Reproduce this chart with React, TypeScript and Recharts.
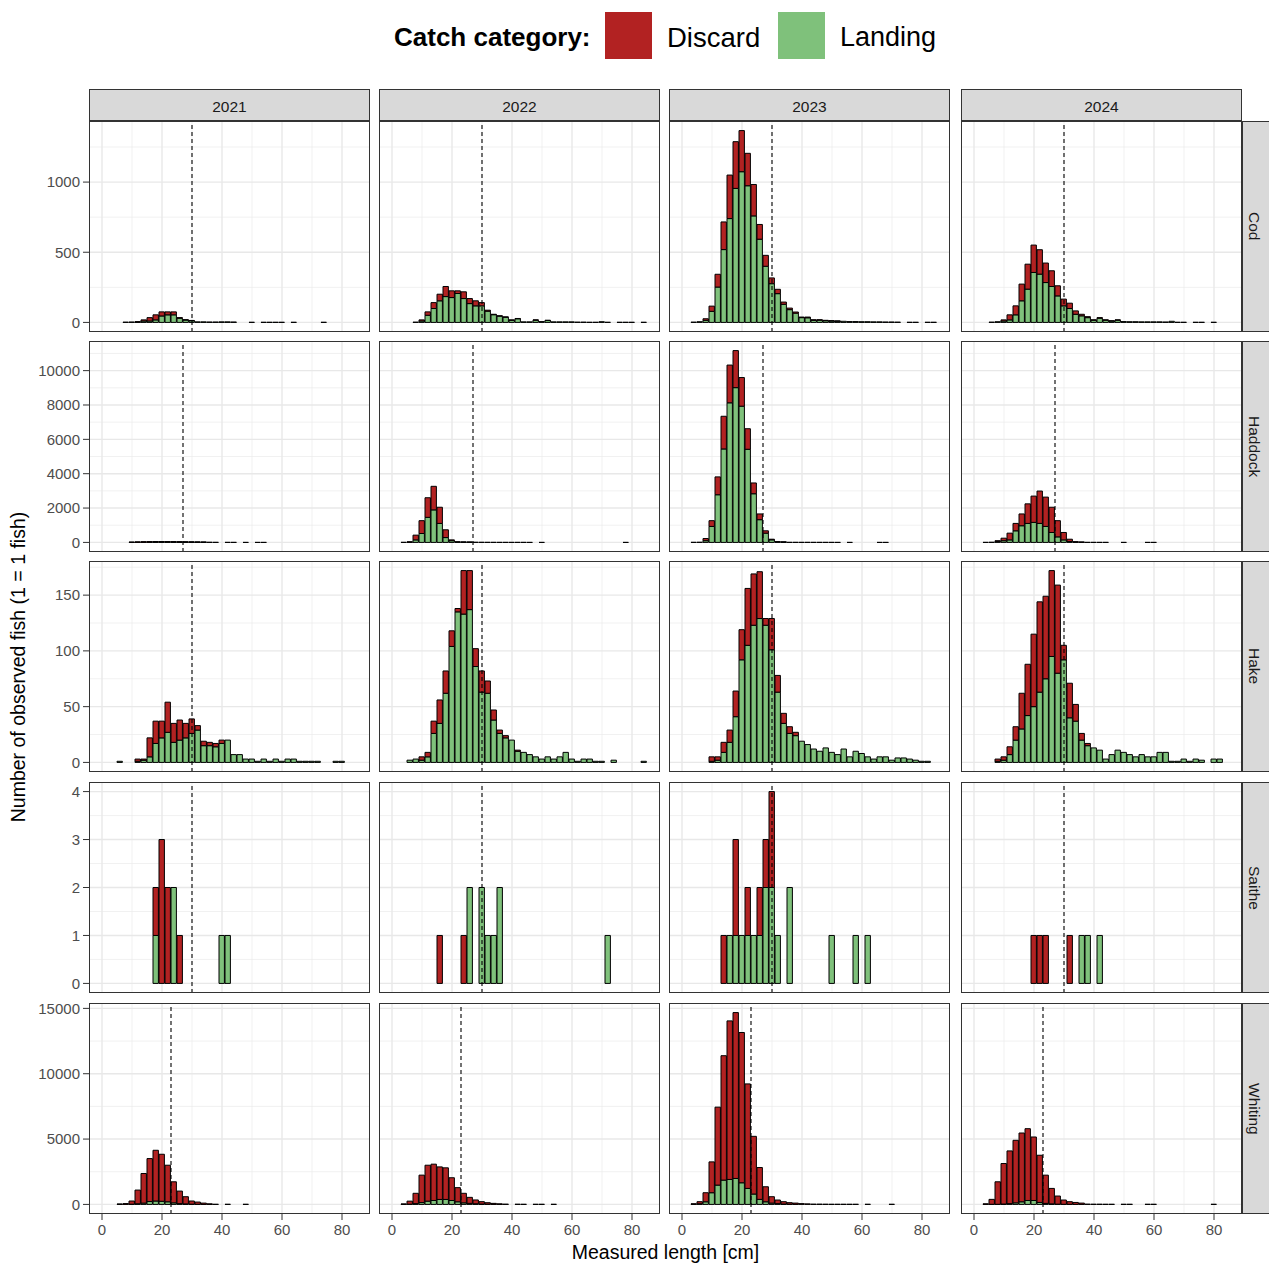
import React from 'react';
import { BarChart, Bar, XAxis, YAxis, CartesianGrid, ReferenceLine } from 'recharts';

// Facet labels
const YEARS = ['2021', '2022', '2023', '2024'];
const SPECIES = ['Cod', 'Haddock', 'Hake', 'Saithe', 'Whiting'];
// Minimum conservation reference size per species (dashed line), cm
const MCRS = [30, 27, 30, 30, 23];

// 2 cm length bins (bin centres)
const LENGTH_BINS = [
  0, 2, 4, 6, 8, 10, 12, 14, 16, 18, 20, 22, 24, 26, 28, 30, 32, 34, 36, 38, 40, 42, 44,
  46, 48, 50, 52, 54, 56, 58, 60, 62, 64, 66, 68, 70, 72, 74, 76, 78, 80, 82, 84, 86, 88,
];

const X_TICKS = [0, 20, 40, 60, 80];
const X_MINOR = [10, 30, 50, 70];

const Y_TICKS = [
  [0, 500, 1000],
  [0, 2000, 4000, 6000, 8000, 10000],
  [0, 50, 100, 150],
  [0, 1, 2, 3, 4],
  [0, 5000, 10000, 15000],
];
const Y_MINOR = [
  [250, 750, 1250],
  [1000, 3000, 5000, 7000, 9000, 11000],
  [25, 75, 125, 175],
  [0.5, 1.5, 2.5, 3.5],
  [2500, 7500, 12500],
];

type Pair = [number, number]; // [length bin, number of fish]

// ---- Cod ----
const COD_21_D: Pair[] = [[12, 2], [14, 8], [16, 24], [18, 36], [20, 29], [22, 21], [24, 21], [26, 4], [28, 2], [30, 2]];
const COD_21_L: Pair[] = [[8, 2], [10, 3], [12, 3], [14, 10], [16, 10], [18, 18], [20, 46], [22, 54], [24, 54], [26, 30], [28, 17], [30, 12], [32, 4], [34, 4], [36, 3], [38, 3], [40, 4], [42, 4], [44, 3], [50, 1], [54, 1], [56, 1], [58, 1], [60, 1], [64, 1], [74, 1]];
const COD_22_D: Pair[] = [[10, 8], [12, 24], [14, 42], [16, 47], [18, 72], [20, 48], [22, 19], [24, 48], [26, 36], [28, 36], [30, 23], [32, 7], [34, 3], [36, 2], [38, 2], [40, 3], [42, 2], [48, 2], [52, 1]];
const COD_22_L: Pair[] = [[8, 2], [10, 10], [12, 51], [14, 99], [16, 154], [18, 184], [20, 177], [22, 206], [24, 170], [26, 134], [28, 118], [30, 118], [32, 80], [34, 55], [36, 45], [38, 37], [40, 15], [42, 26], [44, 4], [46, 4], [48, 16], [50, 6], [52, 14], [54, 4], [56, 4], [58, 4], [60, 4], [62, 2], [64, 2], [66, 1], [68, 1], [70, 5], [72, 1], [76, 1], [78, 1], [80, 1], [84, 1]];
const COD_23_D: Pair[] = [[8, 11], [10, 37], [12, 91], [14, 197], [16, 310], [18, 333], [20, 293], [22, 231], [24, 224], [26, 105], [28, 78], [30, 41], [32, 31], [34, 16], [36, 11], [38, 8], [40, 4], [42, 5], [44, 4], [46, 3], [48, 3], [50, 2], [52, 1]];
const COD_23_L: Pair[] = [[4, 2], [6, 5], [8, 15], [10, 79], [12, 252], [14, 519], [16, 740], [18, 955], [20, 1074], [22, 974], [24, 759], [26, 593], [28, 400], [30, 276], [32, 205], [34, 129], [36, 91], [38, 66], [40, 34], [42, 33], [44, 15], [46, 16], [48, 12], [50, 10], [52, 9], [54, 8], [56, 6], [58, 6], [60, 5], [62, 5], [64, 4], [66, 4], [68, 3], [70, 3], [72, 2], [76, 1], [78, 1], [82, 1], [84, 1]];
const COD_24_D: Pair[] = [[10, 8], [12, 36], [14, 64], [16, 119], [18, 178], [20, 195], [22, 174], [24, 139], [26, 112], [28, 72], [30, 48], [32, 38], [34, 24], [36, 11], [38, 7], [40, 2], [42, 4], [44, 2], [46, 1], [48, 2]];
const COD_24_L: Pair[] = [[6, 2], [8, 5], [10, 10], [12, 18], [14, 54], [16, 154], [18, 237], [20, 356], [22, 344], [24, 284], [26, 256], [28, 189], [30, 118], [32, 99], [34, 58], [36, 47], [38, 34], [40, 16], [42, 30], [44, 16], [46, 10], [48, 16], [50, 6], [52, 5], [54, 5], [56, 4], [58, 4], [60, 4], [62, 4], [64, 3], [66, 8], [68, 1], [70, 1], [74, 1], [76, 1], [80, 1]];

// ---- Haddock ----
const HAD_21_D: Pair[] = [[10, 10], [12, 20], [14, 25], [16, 25], [18, 25], [20, 20], [22, 15], [24, 10], [26, 7], [28, 5], [30, 3], [32, 2], [34, 1]];
const HAD_21_L: Pair[] = [[10, 5], [12, 10], [14, 15], [16, 20], [18, 25], [20, 30], [22, 30], [24, 30], [26, 28], [28, 25], [30, 22], [32, 18], [34, 14], [36, 10], [38, 5], [42, 3], [44, 2], [48, 1], [52, 1], [54, 1]];
const HAD_22_D: Pair[] = [[6, 10], [8, 276], [10, 747], [12, 1140], [14, 1371], [16, 941], [18, 453], [20, 47], [22, 5], [24, 2], [26, 1]];
const HAD_22_L: Pair[] = [[4, 5], [6, 20], [8, 147], [10, 518], [12, 1460], [14, 1894], [16, 1106], [18, 282], [20, 100], [22, 25], [24, 18], [26, 14], [28, 10], [30, 8], [32, 5], [34, 4], [36, 3], [38, 3], [40, 2], [42, 2], [44, 2], [46, 1], [50, 1], [78, 1]];
const HAD_23_D: Pair[] = [[8, 125], [10, 334], [12, 1039], [14, 1902], [16, 2197], [18, 2157], [20, 1667], [22, 1196], [24, 628], [26, 334], [28, 137], [30, 36], [32, 5], [34, 3]];
const HAD_23_L: Pair[] = [[4, 5], [6, 10], [8, 100], [10, 931], [12, 2775], [14, 5441], [16, 8127], [18, 9010], [20, 7931], [22, 5422], [24, 2833], [26, 1323], [28, 539], [30, 150], [32, 35], [34, 22], [36, 5], [38, 5], [40, 4], [42, 4], [44, 3], [46, 3], [48, 2], [50, 2], [52, 1], [56, 1], [66, 1], [68, 1]];
const HAD_24_D: Pair[] = [[8, 38], [10, 147], [12, 392], [14, 430], [16, 687], [18, 1139], [20, 1529], [22, 1884], [24, 1706], [26, 1469], [28, 942], [30, 431], [32, 136], [34, 20], [36, 10]];
const HAD_24_L: Pair[] = [[4, 3], [6, 10], [8, 60], [10, 98], [12, 147], [14, 676], [16, 970], [18, 1106], [20, 1167], [22, 1106], [24, 931], [26, 578], [28, 323], [30, 147], [32, 50], [34, 20], [36, 10], [38, 3], [40, 3], [42, 2], [44, 2], [50, 1], [58, 1], [60, 1]];

// ---- Hake ----
const HAKE_21_D: Pair[] = [[12, 2], [14, 1], [16, 17], [18, 20], [20, 15], [22, 27], [24, 17], [26, 18], [28, 13], [30, 13], [32, 4], [34, 4], [36, 3], [38, 3], [40, 3]];
const HAKE_21_L: Pair[] = [[6, 1], [12, 1], [14, 2], [16, 5], [18, 17], [20, 22], [22, 27], [24, 18], [26, 20], [28, 22], [30, 26], [32, 29], [34, 15], [36, 15], [38, 14], [40, 17], [42, 20], [44, 7], [46, 7], [48, 3], [50, 3], [52, 1], [54, 3], [56, 1], [58, 3], [60, 1], [62, 3], [64, 3], [66, 1], [68, 1], [70, 1], [72, 1], [78, 1], [80, 1]];
const HAKE_22_D: Pair[] = [[10, 3], [12, 4], [14, 11], [16, 21], [18, 20], [20, 14], [22, 3], [24, 39], [26, 35], [28, 16], [30, 19], [32, 11], [34, 9], [36, 3], [38, 2], [42, 1]];
const HAKE_22_L: Pair[] = [[6, 2], [8, 3], [10, 2], [12, 5], [14, 26], [16, 35], [18, 62], [20, 104], [22, 135], [24, 133], [26, 137], [28, 86], [30, 63], [32, 62], [34, 38], [36, 26], [38, 22], [40, 20], [42, 10], [44, 9], [46, 7], [48, 5], [50, 3], [52, 5], [54, 3], [56, 5], [58, 9], [60, 3], [62, 1], [64, 3], [66, 3], [68, 1], [70, 1], [74, 2], [84, 1]];
const HAKE_23_D: Pair[] = [[10, 4], [12, 3], [14, 9], [16, 11], [18, 23], [20, 27], [22, 51], [24, 46], [26, 42], [28, 6], [30, 28], [32, 15], [34, 9], [36, 6], [38, 3]];
const HAKE_23_L: Pair[] = [[10, 1], [12, 2], [14, 9], [16, 18], [18, 41], [20, 92], [22, 105], [24, 123], [26, 129], [28, 123], [30, 101], [32, 63], [34, 35], [36, 26], [38, 24], [40, 19], [42, 16], [44, 12], [46, 10], [48, 13], [50, 9], [52, 7], [54, 12], [56, 5], [58, 10], [60, 8], [62, 5], [64, 3], [66, 5], [68, 5], [70, 2], [72, 4], [74, 4], [76, 3], [78, 2], [80, 1], [82, 1]];
const HAKE_24_D: Pair[] = [[8, 2], [10, 3], [12, 7], [14, 12], [16, 32], [18, 46], [20, 65], [22, 81], [24, 74], [26, 77], [28, 79], [30, 13], [32, 31], [34, 15], [36, 6], [38, 2]];
const HAKE_24_L: Pair[] = [[8, 1], [10, 2], [12, 7], [14, 20], [16, 30], [18, 42], [20, 50], [22, 63], [24, 75], [26, 95], [28, 80], [30, 92], [32, 40], [34, 37], [36, 20], [38, 15], [40, 13], [42, 11], [44, 3], [46, 7], [48, 11], [50, 9], [52, 7], [54, 5], [56, 7], [58, 5], [60, 5], [62, 9], [64, 9], [66, 1], [68, 1], [70, 3], [72, 1], [74, 3], [76, 2], [80, 3], [82, 3]];

// ---- Saithe ----
const SAI_21_D: Pair[] = [[18, 1], [20, 3], [22, 2], [26, 1]];
const SAI_21_L: Pair[] = [[18, 1], [24, 2], [40, 1], [42, 1]];
const SAI_22_D: Pair[] = [[16, 1], [24, 1]];
const SAI_22_L: Pair[] = [[26, 2], [30, 2], [32, 1], [34, 1], [36, 2], [72, 1]];
const SAI_23_D: Pair[] = [[14, 1], [18, 2], [22, 1], [26, 1], [28, 1], [30, 2]];
const SAI_23_L: Pair[] = [[16, 1], [18, 1], [20, 1], [22, 1], [24, 1], [26, 1], [28, 2], [30, 2], [32, 1], [36, 2], [50, 1], [58, 1], [62, 1]];
const SAI_24_D: Pair[] = [[20, 1], [22, 1], [24, 1], [32, 1]];
const SAI_24_L: Pair[] = [[36, 1], [38, 1], [42, 1]];

// ---- Whiting ----
const WHI_21_D: Pair[] = [[6, 10], [8, 40], [10, 239], [12, 1047], [14, 2266], [16, 3288], [18, 3882], [20, 3598], [22, 2800], [24, 1611], [26, 960], [28, 549], [30, 239], [32, 170], [34, 95], [36, 35], [38, 10], [42, 10], [48, 10]];
const WHI_21_L: Pair[] = [[6, 10], [8, 20], [10, 20], [12, 50], [14, 100], [16, 220], [18, 260], [20, 240], [22, 200], [24, 120], [26, 60], [28, 40], [30, 20], [32, 10], [34, 5], [36, 5]];
const WHI_22_D: Pair[] = [[4, 20], [6, 230], [8, 790], [10, 2100], [12, 2750], [14, 2780], [16, 2490], [18, 2420], [20, 1740], [22, 1082], [24, 730], [26, 460], [28, 290], [30, 180], [32, 110], [34, 70], [36, 35], [38, 20], [42, 15], [44, 10], [48, 10], [50, 10], [54, 10]];
const WHI_22_L: Pair[] = [[4, 10], [6, 20], [8, 60], [10, 140], [12, 250], [14, 300], [16, 380], [18, 380], [20, 300], [22, 200], [24, 120], [26, 80], [28, 50], [30, 30], [32, 20], [34, 10], [36, 5]];
const WHI_23_D: Pair[] = [[4, 20], [6, 158], [8, 694], [10, 2360], [12, 5965], [14, 9519], [16, 12134], [18, 12693], [20, 11500], [22, 7996], [24, 4416], [26, 2437], [28, 1151], [30, 489], [32, 275], [34, 178], [36, 112], [38, 90], [40, 60], [42, 40], [44, 20], [46, 20], [48, 15], [50, 10], [52, 10], [54, 10], [56, 10], [58, 10], [62, 10], [70, 10]];
const WHI_23_L: Pair[] = [[4, 20], [6, 50], [8, 200], [10, 894], [12, 1478], [14, 1859], [16, 1909], [18, 1985], [20, 1655], [22, 1224], [24, 793], [26, 386], [28, 200], [30, 100], [32, 60], [34, 30], [36, 20], [38, 10]];
const WHI_24_D: Pair[] = [[4, 30], [6, 376], [8, 1721], [10, 3098], [12, 4033], [14, 4785], [16, 5264], [18, 5494], [20, 4859], [22, 3612], [24, 2159], [26, 1184], [28, 620], [30, 325], [32, 200], [34, 145], [36, 95], [38, 20], [40, 15], [42, 15], [44, 10], [46, 10], [50, 10], [52, 10], [58, 10], [60, 10], [80, 10]];
const WHI_24_L: Pair[] = [[4, 10], [6, 10], [8, 10], [10, 30], [12, 60], [14, 120], [16, 200], [18, 300], [20, 300], [22, 150], [24, 80], [26, 40], [28, 20], [30, 10], [32, 8], [34, 5], [36, 5]];

// rows = species, columns = years, [discard, landing]
const SERIES: [Pair[], Pair[]][][] = [
  [[COD_21_D, COD_21_L], [COD_22_D, COD_22_L], [COD_23_D, COD_23_L], [COD_24_D, COD_24_L]],
  [[HAD_21_D, HAD_21_L], [HAD_22_D, HAD_22_L], [HAD_23_D, HAD_23_L], [HAD_24_D, HAD_24_L]],
  [[HAKE_21_D, HAKE_21_L], [HAKE_22_D, HAKE_22_L], [HAKE_23_D, HAKE_23_L], [HAKE_24_D, HAKE_24_L]],
  [[SAI_21_D, SAI_21_L], [SAI_22_D, SAI_22_L], [SAI_23_D, SAI_23_L], [SAI_24_D, SAI_24_L]],
  [[WHI_21_D, WHI_21_L], [WHI_22_D, WHI_22_L], [WHI_23_D, WHI_23_L], [WHI_24_D, WHI_24_L]],
];

const DISCARD = '#B22222';
const LANDING = '#7FC17B';
const FONT = '"Liberation Sans", Arial, sans-serif';

// layout
const COL_X = [89, 379, 669, 961];
const ROW_Y = [121, 341, 561, 782, 1003];
const PANEL_W = 281;
const PANEL_H = 211;
const STRIP = 32;
const Y_AXIS_W = 89;
const X_AXIS_H = 30;
const X_DOMAIN: [number, number] = [-13 / 3, 268 / 3];

function binTable(discard: Pair[], landing: Pair[]) {
  const d = new Map(discard);
  const l = new Map(landing);
  return LENGTH_BINS.map((len) => ({ len, discard: d.get(len) ?? 0, landing: l.get(len) ?? 0 }));
}

const rowMax = SERIES.map((row) =>
  Math.max(...row.flatMap(([d, l]) => binTable(d, l).map((b) => b.discard + b.landing)))
);

const tickStyle = { fill: '#4D4D4D', fontSize: 15, fontFamily: FONT };

const Panel: React.FC<{ r: number; c: number }> = ({ r, c }) => {
  const firstCol = c === 0;
  const lastRow = r === SPECIES.length - 1;
  const yw = firstCol ? Y_AXIS_W : 0;
  const xh = lastRow ? X_AXIS_H : 0;
  const width = PANEL_W + yw;
  const height = PANEL_H + xh;
  const max = rowMax[r];
  const yDomain: [number, number] = [-0.05 * max, 1.05 * max];
  const minor = Y_MINOR[r].filter((v) => v < yDomain[1]);
  const [discard, landing] = SERIES[r][c];

  return (
    <div style={{ position: 'absolute', left: COL_X[c] - yw, top: ROW_Y[r], width, height }}>
      <BarChart
        width={width}
        height={height}
        data={binTable(discard, landing)}
        margin={{ top: 0, right: 0, bottom: 0, left: 0 }}
        barGap={0}
        barCategoryGap={0}
      >
        <CartesianGrid verticalValues={X_MINOR} horizontalValues={minor} stroke="#EBEBEB" strokeWidth={0.7} />
        <CartesianGrid verticalValues={X_TICKS} horizontalValues={Y_TICKS[r]} stroke="#E8E8E8" strokeWidth={1.4} />
        <XAxis
          type="number"
          dataKey="len"
          domain={X_DOMAIN}
          allowDataOverflow
          ticks={X_TICKS}
          interval={0}
          hide={!lastRow}
          height={xh}
          axisLine={false}
          tickLine={{ stroke: '#333333' }}
          tickSize={6}
          tickMargin={4}
          tick={tickStyle}
        />
        <YAxis
          type="number"
          domain={yDomain}
          allowDataOverflow
          ticks={Y_TICKS[r]}
          interval={0}
          hide={!firstCol}
          width={yw}
          axisLine={false}
          tickLine={{ stroke: '#333333' }}
          tickSize={6}
          tickMargin={3}
          tick={tickStyle}
        />
        <Bar dataKey="landing" stackId="catch" fill={LANDING} stroke="#000" strokeWidth={1} barSize={6} isAnimationActive={false} />
        <Bar dataKey="discard" stackId="catch" fill={DISCARD} stroke="#000" strokeWidth={1} barSize={6} isAnimationActive={false} />
        <ReferenceLine x={MCRS[r]} stroke="#000" strokeWidth={1.1} strokeDasharray="4 3" />
      </BarChart>
    </div>
  );
};

const stripStyle: React.CSSProperties = {
  position: 'absolute',
  boxSizing: 'border-box',
  border: '1px solid #333333',
  background: '#D9D9D9',
  color: '#1A1A1A',
  fontSize: 15.5,
  display: 'flex',
  alignItems: 'center',
};

const App: React.FC = () => {
  return (
    <div
      style={{
        position: 'absolute',
        left: 0,
        top: 0,
        width: 1269,
        height: 1263,
        overflow: 'hidden',
        background: '#fff',
        fontFamily: FONT,
      }}
    >
      <style>{'.recharts-surface { overflow: visible; }'}</style>

      {/* Legend */}
      <div style={{ position: 'absolute', left: 394, top: 14, height: 47, lineHeight: '47px', fontSize: 26, fontWeight: 'bold', color: '#000' }}>
        Catch category:
      </div>
      <div style={{ position: 'absolute', left: 605, top: 12, width: 47, height: 47, background: DISCARD }} />
      <div style={{ position: 'absolute', left: 667, top: 14, height: 47, lineHeight: '47px', fontSize: 27.5, color: '#000' }}>Discard</div>
      <div style={{ position: 'absolute', left: 778, top: 12, width: 47, height: 47, background: LANDING }} />
      <div style={{ position: 'absolute', left: 840, top: 14, height: 47, lineHeight: '47px', fontSize: 27, color: '#000' }}>Landing</div>

      {/* Column strips */}
      {YEARS.map((y, c) => (
        <div
          key={y}
          style={{
            ...stripStyle,
            left: COL_X[c],
            top: ROW_Y[0] - STRIP,
            width: PANEL_W,
            height: STRIP,
            justifyContent: 'center',
            paddingTop: 3,
          }}
        >
          {y}
        </div>
      ))}

      {/* Row strips */}
      {SPECIES.map((s, r) => (
        <div
          key={s}
          style={{
            ...stripStyle,
            left: COL_X[3] + PANEL_W,
            top: ROW_Y[r],
            width: STRIP,
            height: PANEL_H,
            justifyContent: 'flex-start',
            paddingLeft: 2,
          }}
        >
          <span style={{ writingMode: 'vertical-rl' }}>{s}</span>
        </div>
      ))}

      {/* Panels */}
      {SPECIES.map((s, r) => YEARS.map((y, c) => <Panel key={`${s}-${y}`} r={r} c={c} />))}

      {/* Panel borders */}
      {SPECIES.map((s, r) =>
        YEARS.map((y, c) => (
          <div
            key={`b-${s}-${y}`}
            style={{
              position: 'absolute',
              left: COL_X[c],
              top: ROW_Y[r],
              width: PANEL_W,
              height: PANEL_H,
              boxSizing: 'border-box',
              border: '1px solid #333333',
              pointerEvents: 'none',
            }}
          />
        ))
      )}

      {/* Axis titles */}
      <div style={{ position: 'absolute', left: 0, width: 1331, top: 1241, textAlign: 'center', fontSize: 19.5, color: '#000' }}>
        Measured length [cm]
      </div>
      <div
        style={{
          position: 'absolute',
          left: 18,
          top: 667,
          transform: 'translate(-50%, -50%) rotate(-90deg)',
          whiteSpace: 'nowrap',
          fontSize: 19.5,
          color: '#000',
        }}
      >
        Number of observed fish (1 = 1 fish)
      </div>
    </div>
  );
};

export default App;
